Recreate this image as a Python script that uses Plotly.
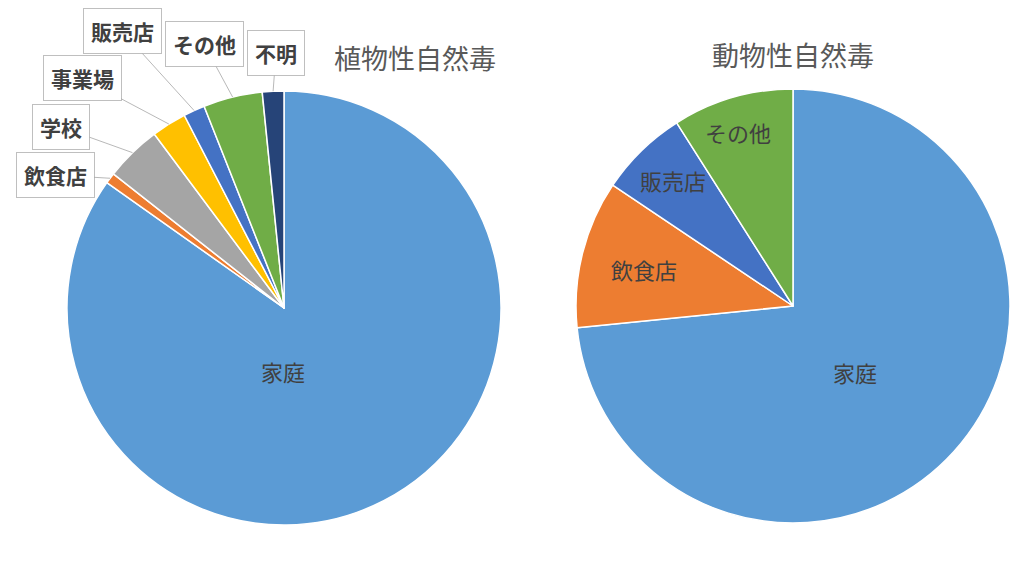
import math
import plotly.graph_objects as go

# page is shown with the browser's 8px body margin, so keep the figure inside the window
OFF = 8
W, H = 1024 - OFF, 571 - OFF
TEXT_DY = -3  # plotly centres text a little low

# 植物性自然毒 (share, %)
plant_labels = ['家庭', '飲食店', '学校', '事業場', '販売店', 'その他', '不明']
plant_values = [84.8, 0.8, 4.2, 2.6, 1.6, 4.4, 1.6]
plant_colors = ['#5B9BD5', '#ED7D31', '#A5A5A5', '#FFC000', '#4472C4', '#70AD47', '#264478']

# 動物性自然毒 (share, %)
animal_labels = ['家庭', '飲食店', '販売店', 'その他']
animal_values = [73.4, 11.0, 6.6, 9.0]
animal_colors = ['#5B9BD5', '#ED7D31', '#4472C4', '#70AD47']

FONT = 'Noto Sans CJK JP'

# pie placement in page pixels: center x, center y, radius
left_pie = (284, 308, 217)
right_pie = (793, 306, 217)


def px2x(px):
    return (px - OFF) / W


def py2y(py):
    return 1 - (py - OFF) / H


def domain(c):
    cx, cy, r = c
    return dict(x=[px2x(cx - r), px2x(cx + r)], y=[py2y(cy + r), py2y(cy - r)])


def edge_point(values, i, c):
    # point on the rim at the middle of slice i (clockwise from 12 o'clock)
    cx, cy, r = c
    total = sum(values)
    mid = (sum(values[:i]) + values[i] / 2) / total
    a = 2 * math.pi * mid
    return cx + r * math.sin(a), cy - r * math.cos(a)


fig = go.Figure()

fig.add_trace(go.Pie(
    labels=plant_labels, values=plant_values, sort=False,
    direction='clockwise', rotation=0,
    marker=dict(colors=plant_colors, line=dict(color='white', width=1.5)),
    textinfo='none', domain=domain(left_pie), showlegend=False,
))
fig.add_trace(go.Pie(
    labels=animal_labels, values=animal_values, sort=False,
    direction='clockwise', rotation=0,
    marker=dict(colors=animal_colors, line=dict(color='white', width=1.5)),
    textinfo='none', domain=domain(right_pie), showlegend=False,
))

ann = []

# titles
for txt, (px, py) in [('植物性自然毒', (415, 60)), ('動物性自然毒', (793, 57))]:
    ann.append(dict(text=txt, x=px2x(px), y=py2y(py + TEXT_DY), xref='paper', yref='paper',
                    xanchor='center', yanchor='middle', showarrow=False,
                    font=dict(family=FONT, size=27, color='#595959')))

# labels inside slices
inside = [('家庭', (283, 374)), ('家庭', (855, 375)), ('飲食店', (644, 272)),
          ('販売店', (673, 183)), ('その他', (738, 135))]
for txt, (px, py) in inside:
    ann.append(dict(text=txt, x=px2x(px), y=py2y(py + TEXT_DY), xref='paper', yref='paper',
                    xanchor='center', yanchor='middle', showarrow=False,
                    font=dict(family=FONT, size=22, color='#404040')))

# callout boxes for the small slices of the left pie
callouts = {'飲食店': (55, 175), '学校': (61, 127), '事業場': (82, 78),
            '販売店': (122, 31), 'その他': (204, 44), '不明': (276, 53)}
for i, name in enumerate(plant_labels):
    if name not in callouts:
        continue
    bx, by = callouts[name]
    tx, ty = edge_point(plant_values, i, left_pie)
    ann.append(dict(text='<b>' + name + '</b>', x=px2x(tx), y=py2y(ty),
                    xref='paper', yref='paper', ax=bx - tx, ay=by - ty,
                    showarrow=True, arrowhead=0, arrowwidth=0.8, arrowcolor='#A6A6A6',
                    bgcolor='white', bordercolor='#BFBFBF', borderwidth=1, borderpad=7,
                    font=dict(family=FONT, size=21, color='#404040')))

fig.update_layout(
    width=W, height=H,
    margin=dict(l=0, r=0, t=0, b=0),
    paper_bgcolor='white',
    annotations=ann,
)

fig.write_html('out.html')
